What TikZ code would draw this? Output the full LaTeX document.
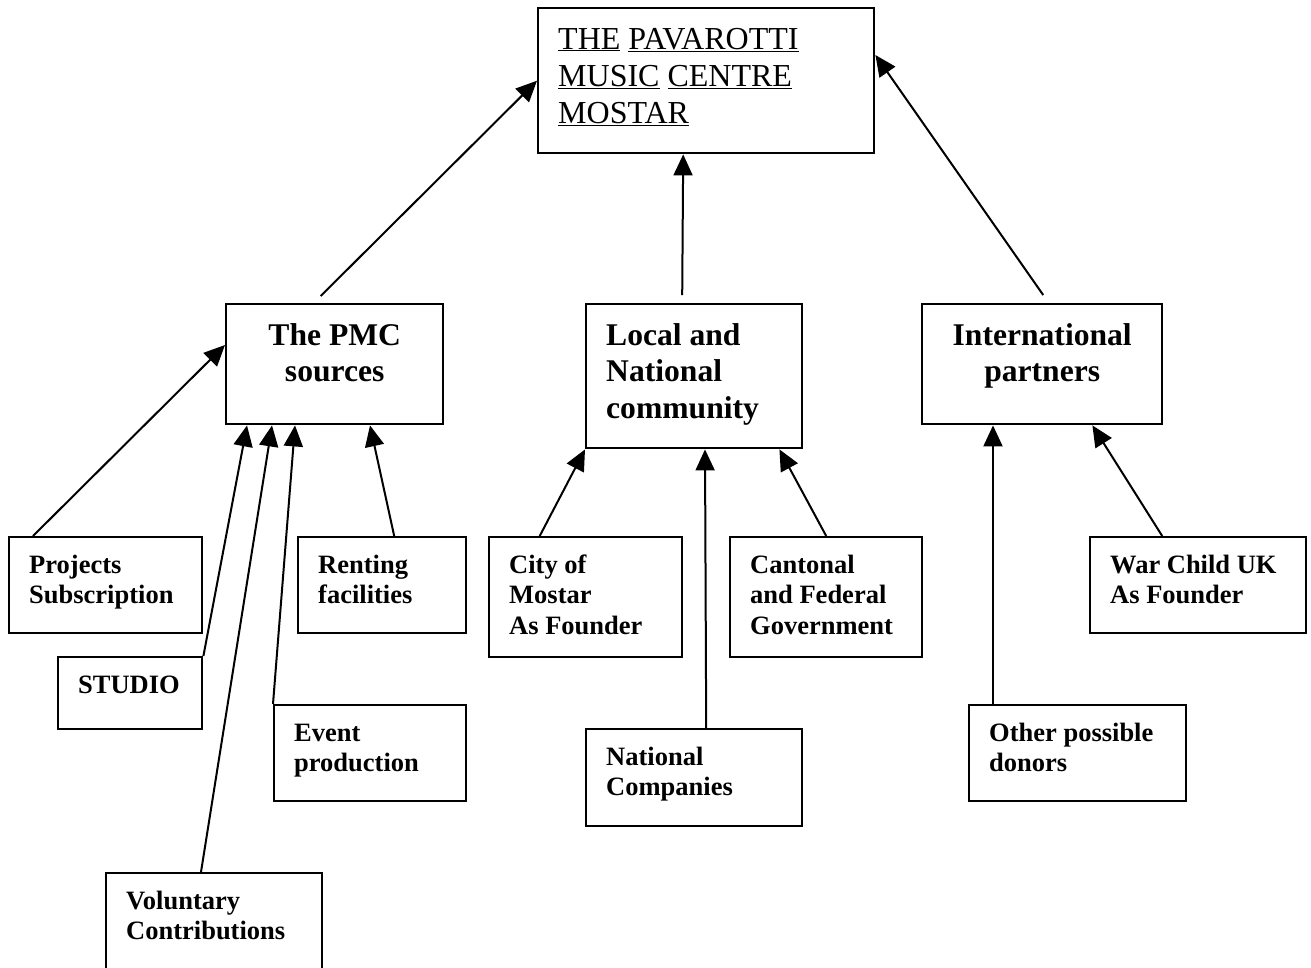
\documentclass[tikz,border=0pt]{standalone}
\usepackage{fontspec}
\setmainfont{Liberation Serif}
\usepackage{xcolor}
\definecolor{cLine}{HTML}{000000}
\usepackage{tikz}
\usetikzlibrary{arrows.meta,calc}
\tikzset{
  node-box/.style={draw=cLine,line width=2.4pt,anchor=north west,
    inner xsep=20pt,inner ysep=0pt},
  node-top/.style={node-box,align=flush left,text height=41pt,
    font=\fontsize{32}{37}\selectfont},
  node-head/.style={node-box,align=flush center,text height=41pt,
    font=\fontsize{31.6}{36.5}\selectfont\bfseries},
  node-leaf/.style={node-box,align=flush left,text height=36pt,
    font=\fontsize{26.5}{30.5}\selectfont\bfseries},
  % box size in px: width and height; text sits at the top
  head-size/.style 2 args={text width={(#1-40)*1pt},text depth={(#2-41)*1pt}},
  leaf-size/.style 2 args={text width={(#1-40)*1pt},text depth={(#2-36)*1pt}},
  arrow/.style={-{Triangle[length=21pt,width=19pt]},line width=2pt,draw=cLine},
}
\begin{document}
\begin{tikzpicture}[x=1pt,y=-1pt]
  \useasboundingbox (0,0) rectangle (1311,967);
  \clip (0,0) rectangle (1311,967);
  \node[node-top,head-size={336}{145}] (pmc) at (537,7)
    {\underline{THE} \underline{PAVAROTTI}\\\underline{MUSIC} \underline{CENTRE}\\\underline{MOSTAR}};
  \node[node-head,head-size={217}{120}] (src) at (225,303) {The PMC\\sources};
  \node[node-head,align=flush left,head-size={216}{144}] (loc) at (585,303) {Local and\\National\\community};
  \node[node-head,head-size={240}{120}] (intl) at (921,303) {International\\partners};
  \node[node-leaf,leaf-size={193}{96}] (prj) at (8,536) {Projects\\Subscription};
  \node[node-leaf,leaf-size={144}{72}] (stu) at (57,656) {STUDIO};
  \node[node-leaf,leaf-size={216}{100}] (vol) at (105,872) {Voluntary\\Contributions};
  \node[node-leaf,leaf-size={168}{96}] (rnt) at (297,536) {Renting\\facilities};
  \node[node-leaf,leaf-size={192}{96}] (evt) at (273,704) {Event\\production};
  \node[node-leaf,leaf-size={193}{120}] (cty) at (488,536) {City of\\Mostar\\As Founder};
  \node[node-leaf,leaf-size={192}{120}] (cnt) at (729,536) {Cantonal\\and Federal\\Government};
  \node[node-leaf,leaf-size={216}{97}] (nco) at (585,728) {National\\Companies};
  \node[node-leaf,leaf-size={216}{96}] (wcuk) at (1089,536) {War Child UK\\As Founder};
  \node[node-leaf,leaf-size={217}{96}] (oth) at (968,704) {Other possible\\donors};
  \draw[arrow] ($(src.north)+(-14,-7)$) -- (pmc.west);
  \draw[arrow] ($(loc.north)+(-12,-8)$) -- ($(pmc.south)+(-23,0)$);
  \draw[arrow] ($(intl.north)+(1,-8)$) -- ($(pmc.north east)+(0,48)$);
  \draw[arrow] ($(prj.north west)+(25,0)$) -- ($(src.north west)+(0,42)$);
  \draw[arrow] (stu.north east) -- ($(src.south west)+(22,0)$);
  \draw[arrow] ($(vol.north west)+(96,0)$) -- ($(src.south west)+(47,0)$);
  \draw[arrow] (evt.north west) -- ($(src.south west)+(70,0)$);
  \draw[arrow] ($(rnt.north)+(12,0)$) -- ($(src.south west)+(145,0)$);
  \draw[arrow] ($(cty.north)+(-46,0)$) -- (loc.south west);
  \draw[arrow] ($(nco.north)+(12,0)$) -- ($(loc.south west)+(120,0)$);
  \draw[arrow] (cnt.north) -- ($(loc.south east)+(-24,0)$);
  \draw[arrow] ($(oth.north west)+(25,0)$) -- ($(intl.south west)+(72,0)$);
  \draw[arrow] ($(wcuk.north)+(-36,0)$) -- ($(intl.south east)+(-71,0)$);
\end{tikzpicture}
\end{document}
